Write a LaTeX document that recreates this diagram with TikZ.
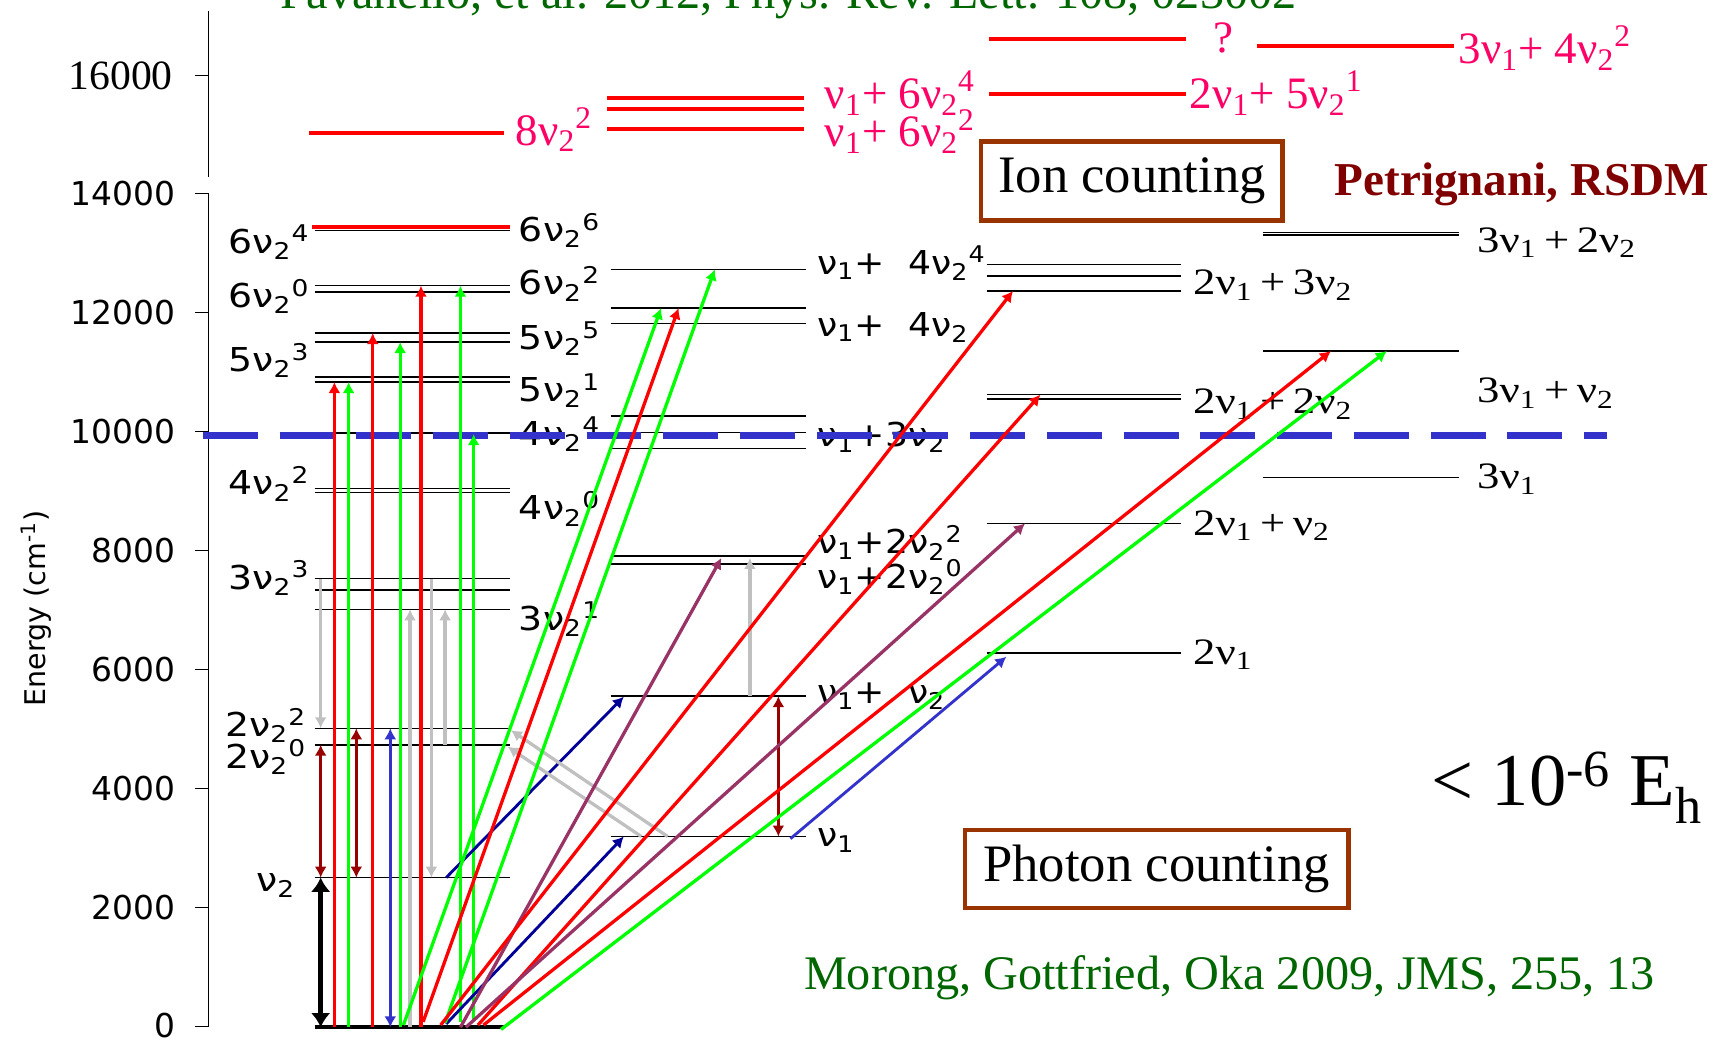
\documentclass[tikz,border=0pt]{standalone}
\usepackage{fontspec}
\setmainfont{Liberation Serif}
\setsansfont{DejaVu Sans}
\usepackage{graphicx}
\usepackage{xcolor}
\usepackage{tikz}
\usetikzlibrary{arrows.meta}

\definecolor{trgreen}{RGB}{0,255,0}
\definecolor{trgray}{RGB}{192,192,192}
\definecolor{trdkred}{RGB}{153,0,0}
\definecolor{trnavy}{RGB}{0,0,153}
\definecolor{trblue}{RGB}{51,51,204}
\definecolor{trpurple}{RGB}{153,51,102}
\definecolor{labpink}{RGB}{255,0,102}
\definecolor{refgreen}{RGB}{0,102,0}
\definecolor{boxbrown}{RGB}{153,51,0}
\definecolor{petred}{RGB}{128,0,0}

\newcommand{\nv}[1]{ν\textsubscript{#1}}
\newcommand{\hi}[1]{\textsuperscript{#1}}
\newcommand{\wide}[2]{\scalebox{#1}[1]{#2}}

\tikzstyle{lvl} = [draw=black, line width=0.7pt]
\tikzstyle{hilvl} = [draw=red, line width=1.8pt]
\tikzstyle{tr} = [-{Latex[length=5pt, width=5.5pt]}, line width=1.5pt]
\tikzstyle{trboth} = [{Latex[length=5pt, width=5.5pt]}-{Latex[length=5pt, width=5.5pt]}, line width=1.5pt]
\tikzstyle{trbig} = [{Latex[length=6.5pt, width=9pt]}-{Latex[length=6.5pt, width=9pt]}, line width=2.3pt]
\tikzstyle{ticklab} = [anchor=east, inner sep=0pt, font=\sffamily\fontsize{15}{17}\selectfont]
\tikzstyle{slab} = [inner sep=0pt, font=\sffamily\fontsize{15}{17}\selectfont]
\tikzstyle{mlab} = [inner sep=0pt, anchor=base west, font=\sffamily\fontsize{15}{17}\selectfont]
\tikzstyle{rlab} = [inner sep=0pt, anchor=base west, font=\fontsize{17}{19}\selectfont]
\tikzstyle{plab} = [inner sep=0pt, anchor=base west, text=labpink, font=\fontsize{20.5}{22}\selectfont]
\tikzstyle{countbox} = [draw=boxbrown, line width=2pt, inner sep=0pt, font=\fontsize{24}{26}\selectfont]
\tikzstyle{refnote} = [inner sep=0pt, anchor=base west, text=refgreen, font=\fontsize{22}{24}\selectfont]

\begin{document}
\begin{tikzpicture}[x=0.5pt, y=-0.5pt]
    \useasboundingbox (0,0) rectangle (1568,950);

    % Energy axis (broken)
    \draw[line width=0.7pt] (190,10) -- (190,161) (178,69) -- (190,69);
    \draw[line width=0.7pt] (190,176.4) -- (190,936.5);
    \draw[line width=0.7pt] (178,936.5) -- (190,936.5) (178,827.9) -- (190,827.9)
        (178,719.3) -- (190,719.3) (178,610.8) -- (190,610.8)
        (178,502.2) -- (190,502.2) (178,393.6) -- (190,393.6)
        (178,285.0) -- (190,285.0) (178,176.4) -- (190,176.4);
    \node[ticklab] (e0) at (160,935) {0};
    \node[ticklab] (e2) at (160,827.9) {2000};
    \node[ticklab] (e4) at (160,719.3) {4000};
    \node[ticklab] (e6) at (160,610.8) {6000};
    \node[ticklab] (e8) at (160,502.2) {8000};
    \node[ticklab] (e10) at (160,393.6) {10000};
    \node[ticklab] (e12) at (160,285.0) {12000};
    \node[ticklab] (e14) at (160,176.4) {14000};
    \node[anchor=east, inner sep=0pt, font=\fontsize{19}{21}\selectfont]
        (e16) at (158,69) {16000};
    \node[rotate=90, inner sep=0pt, font=\sffamily\fontsize{13}{15}\selectfont]
        (elab) at (33,555) {Energy (cm\textsuperscript{-1})};

    % Levels: n nu2
    \draw[line width=2pt] (287,937) -- (460,937);
    \draw[lvl] (287,800.5) -- (465,800.5) (287,679.3) -- (465,679.3)
        (287,664.3) -- (465,664.3) (287,555.8) -- (465,555.8)
        (287,538.2) -- (465,538.2) (287,527.8) -- (465,527.8)
        (287,449.1) -- (465,449.1) (287,445.4) -- (465,445.4)
        (287,395.0) -- (465,395.0) (287,348.5) -- (465,348.5)
        (287,344.0) -- (465,344.0) (287,312.0) -- (465,312.0)
        (287,303.8) -- (465,303.8) (287,266.1) -- (465,266.1)
        (287,260.6) -- (465,260.6) (287,210.4) -- (465,210.4);
    \draw[hilvl] (285,206.8) -- (465,206.8);

    % Levels: nu1 + n nu2
    \draw[lvl] (557,763) -- (735,763) (557,635) -- (735,635)
        (557,514.5) -- (735,514.5) (557,507.2) -- (735,507.2)
        (557,409) -- (735,409) (557,394.7) -- (735,394.7)
        (557,379.2) -- (735,379.2) (557,295.2) -- (735,295.2)
        (557,281) -- (735,281) (557,245.7) -- (735,245.7);

    % Levels: 2 nu1 + n nu2
    \draw[lvl] (900,595.4) -- (1077,595.4) (900,477.4) -- (1077,477.4)
        (900,363.7) -- (1077,363.7) (900,359.7) -- (1077,359.7)
        (900,265.4) -- (1077,265.4) (900,251.5) -- (1077,251.5)
        (900,241.1) -- (1077,241.1);

    % Levels: 3 nu1 + n nu2
    \draw[lvl] (1152,435.4) -- (1331,435.4) (1152,320.2) -- (1331,320.2)
        (1152,214.4) -- (1331,214.4) (1152,211.9) -- (1331,211.9);

    % Levels above 14000
    \draw[hilvl] (282,121) -- (460,121);
    \draw[hilvl] (554,89.7) -- (733,89.7) (554,99.1) -- (733,99.1)
        (554,117.4) -- (733,117.4);
    \draw[hilvl] (902,86) -- (1082,86) (902,35.6) -- (1082,35.6);
    \draw[hilvl] (1147,42.3) -- (1326,42.3);

    % Labels
    \node[slab, anchor=base east] (l64) at (283,231) {\wide{1.15}{6\nv{2}\hi{4}}};
    \node[slab, anchor=base east] (l60) at (283,280.6) {\wide{1.15}{6\nv{2}\hi{0}}};
    \node[slab, anchor=base east] (l53) at (283,339) {\wide{1.15}{5\nv{2}\hi{3}}};
    \node[slab, anchor=base east] (l42) at (283,451.5) {\wide{1.15}{4\nv{2}\hi{2}}};
    \node[slab, anchor=base east] (l33) at (283,537.6) {\wide{1.15}{3\nv{2}\hi{3}}};
    \node[slab, anchor=base east] (l22) at (280,672) {\wide{1.15}{2\nv{2}\hi{2}}};
    \node[slab, anchor=base east] (l20) at (280,700.8) {\wide{1.15}{2\nv{2}\hi{0}}};
    \node[slab, anchor=base east] (l11) at (270,813.4) {\wide{1.15}{\nv{2}}};
    \node[slab, anchor=base west] (l66) at (473,220.5) {\wide{1.15}{6\nv{2}\hi{6}}};
    \node[slab, anchor=base west] (l62) at (473,269) {\wide{1.15}{6\nv{2}\hi{2}}};
    \node[slab, anchor=base west] (l55) at (473,319) {\wide{1.15}{5\nv{2}\hi{5}}};
    \node[slab, anchor=base west] (l51) at (473,366.4) {\wide{1.15}{5\nv{2}\hi{1}}};
    \node[slab, anchor=base west] (l44) at (473,406) {\wide{1.15}{4\nv{2}\hi{4}}};
    \node[slab, anchor=base west] (l40) at (473,474.3) {\wide{1.15}{4\nv{2}\hi{0}}};
    \node[slab, anchor=base west] (l31) at (473,574.7) {\wide{1.15}{3\nv{2}\hi{1}}};

    \node[mlab] (m44) at (745,250) {\wide{1.1}{\nv{1}+~ 4\nv{2}\hi{4}}};
    \node[mlab] (m4) at (745,306.5) {\wide{1.1}{\nv{1}+~ 4\nv{2}}};
    \node[mlab] (m3) at (745,407.4) {\wide{1.1}{\nv{1}+3\nv{2}}};
    \node[mlab] (m22) at (745,505.3) {\wide{1.1}{\nv{1}+2\nv{2}\hi{2}}};
    \node[mlab] (m20) at (745,536.6) {\wide{1.1}{\nv{1}+2\nv{2}\hi{0}}};
    \node[mlab] (m1) at (745,641.5) {\wide{1.1}{\nv{1}+~ \nv{2}}};
    \node[mlab] (m0) at (745,772.3) {\wide{1.1}{\nv{1}}};

    \node[rlab] (r23) at (1088,269) {\wide{1.2}{2\nv{1}\,+\,3\nv{2}}};
    \node[rlab] (r22) at (1088,377) {\wide{1.2}{2\nv{1}\,+\,2\nv{2}}};
    \node[rlab] (r21) at (1088,488) {\wide{1.2}{2\nv{1}\,+\,\nv{2}}};
    \node[rlab] (r20) at (1088,605.7) {\wide{1.2}{2\nv{1}}};
    \node[rlab] (r32) at (1347,230) {\wide{1.2}{3\nv{1}\,+\,2\nv{2}}};
    \node[rlab] (r31) at (1347,367) {\wide{1.2}{3\nv{1}\,+\,\nv{2}}};
    \node[rlab] (r30) at (1347,446) {\wide{1.2}{3\nv{1}}};

    \node[plab] (p82) at (470,132.3) {8\nv{2}\hi{2}};
    \node[plab] (p164) at (752,98.8) {\nv{1}+ 6\nv{2}\hi{4}};
    \node[plab] (p162) at (752,133.8) {\nv{1}+ 6\nv{2}\hi{2}};
    \node[plab] (p251) at (1085,98.8) {2\nv{1}+ 5\nv{2}\hi{1}};
    \node[plab, anchor=base] (pq) at (1116,48) {?};
    \node[plab] (p342) at (1330,57.8) {3\nv{1}+ 4\nv{2}\hi{2}};

    % Dissociation-like dashed line
    \draw[draw=trblue, line width=3pt, dash pattern=on 25pt off 10pt] (185,397) -- (1466,397);

    % Transitions within the nu2 ladder
    \draw[trbig, black] (292.5,937) -- (292.5,800.5);
    \draw[trboth, trdkred] (292.5,800.5) -- (292.5,679.3);
    \draw[trboth, trdkred] (325,800.5) -- (325,664.3);
    \draw[trboth, trblue] (356,937) -- (356,664.3);
    \draw[tr, trgray] (292.5,527.8) -- (292.5,664.3);
    \draw[tr, trgray] (374,937) -- (374,555.8);
    \draw[tr, trgray] (393.5,527.8) -- (393.5,800.5);
    \draw[tr, trgray] (406,679.3) -- (406,555.8);
    \draw[tr, red] (305,937) -- (305,348.5);
    \draw[tr, trgreen] (318,937) -- (318,348.5);
    \draw[tr, red] (340,937) -- (340,303.8);
    \draw[tr, trgreen] (365,937) -- (365,312);
    \draw[tr, red] (384,937) -- (384,260.6);
    \draw[tr, trgreen] (420,932) -- (420,260.6);
    \draw[tr, trgreen] (432,930) -- (432,396);

    % Transitions to nu1 + n nu2
    \draw[tr, trgray] (684,635) -- (684,509);
    \draw[trboth, trdkred] (710,635) -- (710,763);
    \draw[tr, trnavy, line width=1.3pt] (407,800.5) -- (569,635.5);
    \draw[tr, trnavy, line width=1.3pt] (407,934) -- (569,763);
    \draw[tr, trgray] (609,763) -- (466,666);
    \draw[tr, trgray] (585,763) -- (463,681);
    \draw[tr, trblue, line width=1.3pt] (721,765) -- (918,599);

    % Transitions from the ground state
    \draw[tr, trgreen] (368,935) -- (603,281);
    \draw[tr, red] (386,932) -- (619,281);
    \draw[tr, trgreen] (406,933) -- (652,245.7);
    \draw[tr, trpurple] (420,937) -- (658,509);
    \draw[tr, red] (402,935) -- (924,265.4);
    \draw[tr, red] (436,935) -- (949,360);
    \draw[tr, trpurple] (425,937) -- (935,477.4);
    \draw[tr, red] (441,935) -- (1214,320.2);
    \draw[tr, trgreen] (457,939) -- (1265,320.2);

    % Annotations
    \node[countbox, minimum width=137.5pt, minimum height=36pt] (ion) at (1032.5,165) {Ion counting};
    \node[countbox, minimum width=175pt, minimum height=35.5pt] (photon) at (1055,792.5) {Photon counting};
    \node[anchor=base west, inner sep=0pt, text=petred, font=\bfseries\fontsize{21.5}{24}\selectfont]
        (petr) at (1217,178) {Petrignani, RSDM};
    \node[anchor=base west, inner sep=0pt, font=\fontsize{34}{36}\selectfont]
        (acc) at (1305,735) {< 10\textsuperscript{-6} E\textsubscript{h}};
    \node[refnote] (morong) at (733,903) {Morong, Gottfried, Oka 2009, JMS, 255, 13};
    \node[refnote] (pava) at (255,8) {Pavanello, et al. 2012, Phys. Rev. Lett. 108, 023002};
\end{tikzpicture}
\end{document}
